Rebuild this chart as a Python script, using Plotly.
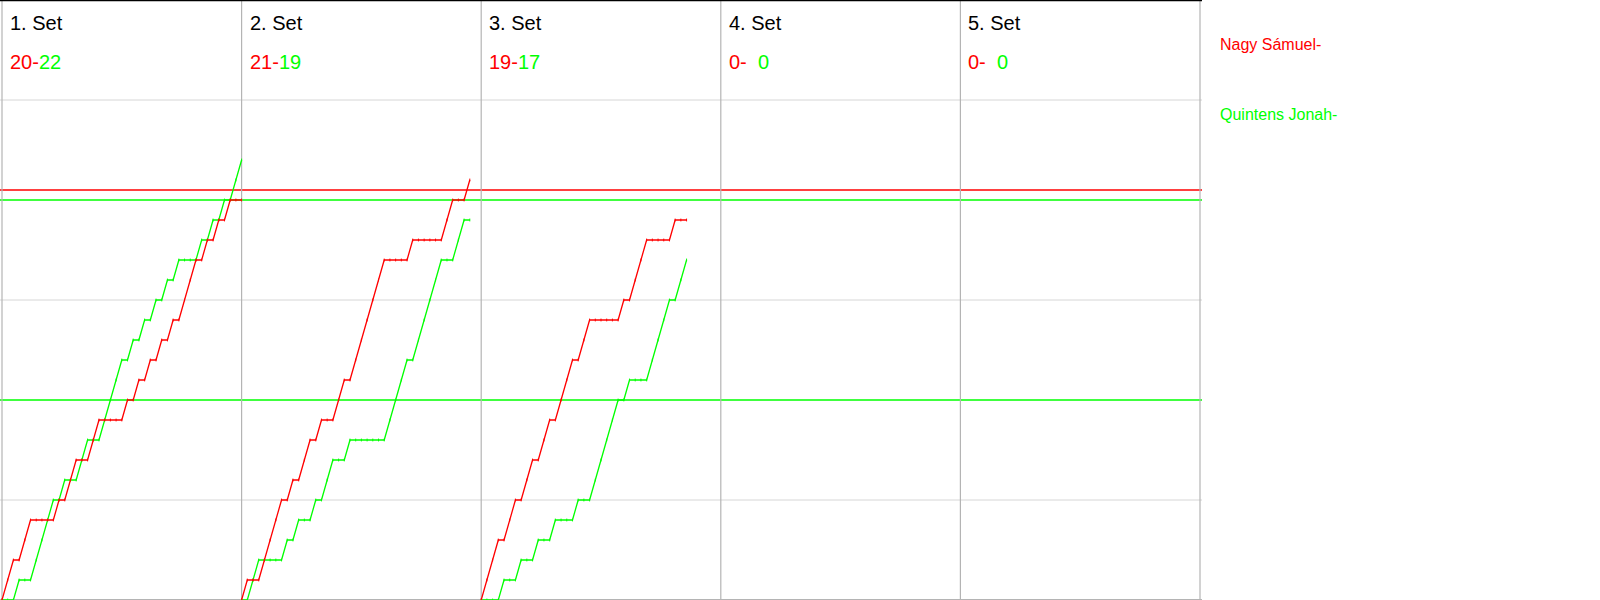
import plotly.graph_objects as go

# ---------------- data ----------------
set_labels = ["1. Set", "2. Set", "3. Set", "4. Set", "5. Set"]
red_final = [20, 21, 19, 0, 0]
green_final = [22, 19, 17, 0, 0]
player_red = "Nagy Sámuel-"
player_green = "Quintens Jonah-"

# cumulative score after each rally (index 0 = start of set)
set1_red = [0, 1, 2, 2, 3, 4, 4, 4, 4, 4, 5, 5, 6, 7, 7, 7, 8, 9, 9, 9, 9, 9, 10, 10, 11, 11,
            12, 12, 13, 13, 14, 14, 15, 16, 17, 17, 18, 18, 19, 19, 20, 20, 20]
set1_green = [0, 0, 0, 1, 1, 1, 2, 3, 4, 5, 5, 6, 6, 6, 7, 8, 8, 8, 9, 10, 11, 12, 12, 13, 13, 14,
              14, 15, 15, 16, 16, 17, 17, 17, 17, 18, 18, 19, 19, 20, 20, 21, 22]
set2_red = [0, 1, 1, 1, 2, 3, 4, 5, 5, 6, 6, 7, 8, 8, 9, 9, 9, 10, 11, 11, 12, 13, 14, 15, 16, 17,
            17, 17, 17, 17, 18, 18, 18, 18, 18, 18, 19, 20, 20, 20, 21]
set2_green = [0, 0, 1, 2, 2, 2, 2, 2, 3, 3, 4, 4, 4, 5, 5, 6, 7, 7, 7, 8, 8, 8, 8, 8, 8, 8,
              9, 10, 11, 12, 12, 13, 14, 15, 16, 17, 17, 17, 18, 19, 19]
set3_red = [0, 1, 2, 3, 3, 4, 5, 5, 6, 7, 7, 8, 9, 9, 10, 11, 12, 12, 13, 14, 14, 14, 14, 14, 14,
            15, 15, 16, 17, 18, 18, 18, 18, 18, 19, 19, 19]
set3_green = [0, 0, 0, 0, 1, 1, 1, 2, 2, 2, 3, 3, 3, 4, 4, 4, 4, 5, 5, 5, 6, 7, 8, 9, 10, 10,
              11, 11, 11, 11, 12, 13, 14, 15, 15, 16, 17]

red_sets = [set1_red, set2_red, set3_red]
green_sets = [set1_green, set2_green, set3_green]

ref_levels = [20.5, 20, 10]
ref_colors = ["#ff0000", "#00ff00", "#00ff00"]
grid_levels = [5, 15, 25]

RALLIES_PER_SET = 42
N_SETS = 5
Y_MAX = 30

RED = "#ff0000"
GREEN = "#00ff00"
FONT = "Liberation Sans, Arial, sans-serif"

fig = go.Figure()

# score progressions
for i, (rs, gs) in enumerate(zip(red_sets, green_sets)):
    off = i * RALLIES_PER_SET
    for series, col in ((gs, GREEN), (rs, RED)):
        fig.add_trace(go.Scatter(
            x=[off + k for k in range(len(series))], y=series,
            mode="lines+markers",
            line=dict(color=col, width=1.3),
            marker=dict(symbol="line-ns", size=2, line=dict(color=col, width=1), color=col),
            hoverinfo="skip", showlegend=False,
        ))

shapes = []
# horizontal gridlines
for lv in grid_levels:
    shapes.append(dict(type="line", xref="paper", yref="y", x0=0, x1=1, y0=lv, y1=lv,
                       line=dict(color="#d6d6d6", width=1), layer="below"))
# reference lines
for lv, col in zip(ref_levels, ref_colors):
    shapes.append(dict(type="line", xref="paper", yref="y", x0=0, x1=1, y0=lv, y1=lv,
                       line=dict(color=col, width=1.3), layer="below"))
# set dividers (incl. left border)
for k in range(N_SETS + 1):
    shapes.append(dict(type="line", xref="x", yref="paper", x0=k * RALLIES_PER_SET,
                       x1=k * RALLIES_PER_SET, y0=0, y1=1,
                       line=dict(color="#b4b4b4", width=1.2), layer="below"))
# bottom border
shapes.append(dict(type="line", xref="paper", yref="paper", x0=0, x1=1, y0=0, y1=0,
                   line=dict(color="#b4b4b4", width=2), layer="below"))
# top border
shapes.append(dict(type="line", xref="paper", yref="paper", x0=0, x1=1, y0=1, y1=1,
                   line=dict(color="#000000", width=2.5), layer="above"))

annotations = []
for k in range(N_SETS):
    x0 = k * RALLIES_PER_SET
    annotations.append(dict(
        x=x0, y=1, xref="x", yref="paper", xanchor="left", yanchor="middle",
        xshift=6, yshift=-23, showarrow=False, text=set_labels[k],
        font=dict(family=FONT, size=20, color="#000000")))
    gtxt = str(green_final[k]) if green_final[k] >= 10 else "\u2007" + str(green_final[k])
    annotations.append(dict(
        x=x0, y=1, xref="x", yref="paper", xanchor="left", yanchor="middle",
        xshift=6, yshift=-62, showarrow=False,
        text=f"<span style='color:{RED}'>{red_final[k]}-</span><span style='color:{GREEN}'>{gtxt}</span>",
        font=dict(family=FONT, size=20, color=RED)))

annotations.append(dict(x=N_SETS * RALLIES_PER_SET, y=1, xref="x", yref="paper",
                        xanchor="left", yanchor="middle", xshift=18, yshift=-44,
                        showarrow=False, text=player_red,
                        font=dict(family=FONT, size=16, color=RED)))
annotations.append(dict(x=N_SETS * RALLIES_PER_SET, y=1, xref="x", yref="paper",
                        xanchor="left", yanchor="middle", xshift=18, yshift=-114,
                        showarrow=False, text=player_green,
                        font=dict(family=FONT, size=16, color=GREEN)))

fig.update_layout(
    width=1600, height=600,
    margin=dict(l=0, r=398, t=0, b=0),
    paper_bgcolor="white", plot_bgcolor="white",
    xaxis=dict(range=[-0.35, N_SETS * RALLIES_PER_SET + 0.35], showgrid=False, zeroline=False,
               showticklabels=False, ticks="", showline=False, fixedrange=True),
    yaxis=dict(range=[0, Y_MAX], showgrid=False, zeroline=False, showticklabels=False,
               ticks="", showline=False, fixedrange=True),
    shapes=shapes, annotations=annotations, showlegend=False,
)

fig.write_html("out.html", config={"displayModeBar": False},
               post_script="document.body.style.margin='0px';document.body.style.overflow='hidden';")
